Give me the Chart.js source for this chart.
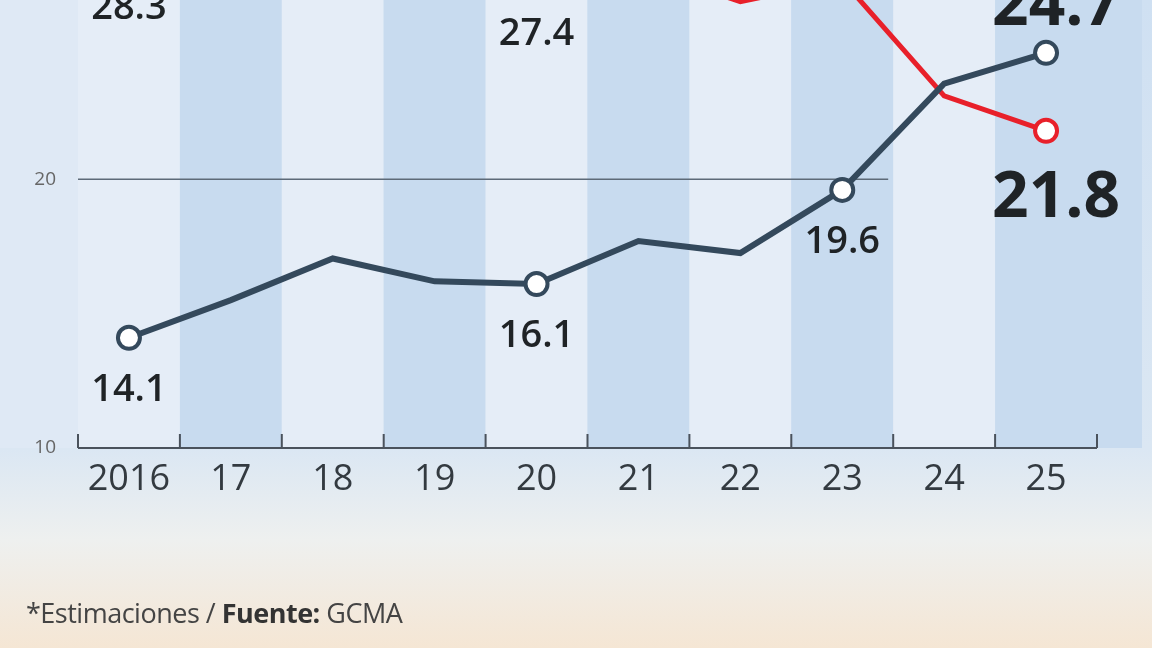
<!DOCTYPE html>
<html>
<head>
<meta charset="utf-8">
<script src="https://cdn.jsdelivr.net/npm/chart.js@4"></script>
<style>
  html, body { margin: 0; padding: 0; }
  body {
    width: 1152px; height: 648px; overflow: hidden; position: relative;
    background: linear-gradient(to bottom, #cfe0f2 0px, #dbe7f3 450px, #eef0ef 540px, #f5e6d4 648px);
    font-family: "Open Sans", sans-serif;
  }
  #wrap { position: absolute; left: 0; top: 0; width: 1152px; height: 648px; }
  #note { position: absolute; left: 26px; top: 594px; font-size: 27px; color: #444; letter-spacing: -0.5px; }
  #note b { color: #333; }
</style>
</head>
<body>
<div id="wrap"><canvas id="chart"></canvas></div>
<div id="note">*Estimaciones / <b>Fuente:</b> GCMA</div>
<script>
document.addEventListener("DOMContentLoaded", function () {
    const years = ["2016", "17", "18", "19", "20", "21", "22", "23", "24", "25"];
    const darkSeries = [14.1, 15.5, 17.05, 16.2, 16.1, 17.7, 17.25, 19.6, 23.55, 24.7];
    const redSeries = [28.3, 28.6, 29.0, 28.6, 27.4, 27.9, 26.6, 27.4, 23.1, 21.8];
    const darkMarkers = [11, 0, 0, 0, 11, 0, 0, 11, 0, 11];
    const redMarkers = [11, 0, 0, 0, 11, 0, 11, 0, 0, 11];
    // value labels: [series, index, text, big, position]
    const labels = [
        ["dark", 0, "14.1", false, "below"],
        ["dark", 4, "16.1", false, "below"],
        ["dark", 7, "19.6", false, "below"],
        ["dark", 9, "24.7", true, "above"],
        ["red", 9, "21.8", true, "below"],
        ["red", 0, "28.3", false, "below"],
        ["red", 4, "27.4", false, "below"]
    ];

    const bandsPlugin = {
        id: "bands",
        beforeDraw(chart) {
            const { ctx, chartArea, scales } = chart;
            const x = scales.x;
            const step = x.getPixelForValue(1) - x.getPixelForValue(0);
            ctx.save();
            ctx.fillStyle = "#dfe9f5";
            ctx.fillRect(0, 0, chartArea.left, chartArea.bottom);
            for (let i = 0; i < years.length; i++) {
                const c = x.getPixelForValue(i);
                ctx.fillStyle = i % 2 === 0 ? "#e5edf7" : "#c8dbef";
                ctx.fillRect(c - step / 2, 0, step, chartArea.bottom);
            }
            ctx.fillStyle = "#c8dbef";
            ctx.fillRect(chartArea.right, 0, 45, chartArea.bottom);
            // gridline at 20
            const y20 = scales.y.getPixelForValue(20);
            ctx.strokeStyle = "#5d6a78";
            ctx.lineWidth = 1.5;
            ctx.beginPath();
            ctx.moveTo(chartArea.left, y20);
            ctx.lineTo(x.getPixelForValue(7) + step / 2 - 5, y20);
            ctx.stroke();
            // baseline with ticks
            ctx.strokeStyle = "#4a525c";
            ctx.lineWidth = 2;
            ctx.beginPath();
            ctx.moveTo(chartArea.left, chartArea.bottom);
            ctx.lineTo(chartArea.right, chartArea.bottom);
            for (let i = 0; i <= years.length; i++) {
                const t = x.getPixelForValue(i) - step / 2;
                ctx.moveTo(t, chartArea.bottom - 14);
                ctx.lineTo(t, chartArea.bottom);
            }
            ctx.stroke();
            ctx.restore();
        }
    };

    const labelsPlugin = {
        id: "valueLabels",
        afterDatasetsDraw(chart) {
            const { ctx } = chart;
            ctx.save();
            ctx.textAlign = "center";
            ctx.textBaseline = "middle";
            ctx.fillStyle = "#1f2326";
            labels.forEach(([s, i, text, big, pos]) => {
                const meta = chart.getDatasetMeta(s === "dark" ? 0 : 1);
                const p = meta.data[i];
                ctx.font = big ? "bold 64px 'Open Sans'" : "600 38px 'Open Sans'";
                if (s === "red" && !big) {
                    ctx.fillText(text, p.x, i === 0 ? 8 : 34);
                    return;
                }
                const y = pos === "below" ? p.y + (big ? 68 : 52) : p.y - 46;
                ctx.fillText(text, p.x + (big ? 10 : 0), y);
            });
            ctx.restore();
        }
    };

    new Chart(document.getElementById("chart"), {
        type: "line",
        data: {
            labels: years,
            datasets: [{
                data: darkSeries,
                borderColor: "#34495c",
                borderWidth: 6,
                pointRadius: darkMarkers,
                pointBackgroundColor: "#ffffff",
                pointBorderColor: "#34495c",
                pointBorderWidth: 4,
                clip: false,
                tension: 0
            }, {
                data: redSeries,
                borderColor: "#e8202a",
                borderWidth: 5,
                pointRadius: redMarkers,
                pointBackgroundColor: "#ffffff",
                pointBorderColor: "#e8202a",
                pointBorderWidth: 4,
                clip: false,
                tension: 0
            }]
        },
        options: {
            responsive: true,
            maintainAspectRatio: false,
            animation: false,
            layout: { padding: { top: 0, right: 55, left: 0, bottom: 0 } },
            plugins: { legend: { display: false }, tooltip: { enabled: false } },
            scales: {
                x: {
                    offset: true,
                    grid: { display: false, drawTicks: false },
                    border: { display: false },
                    ticks: { color: "#333a40", font: { size: 36, family: "Open Sans" }, padding: 10 },
                    afterFit: s => { s.height = 200; }
                },
                y: {
                    min: 10,
                    max: 25.72,
                    afterBuildTicks: s => { s.ticks = [{ value: 10 }, { value: 20 }]; },
                    grid: { display: false },
                    border: { display: false },
                    ticks: { color: "#666", font: { size: 19, family: "Open Sans" }, padding: 14 },
                    afterFit: s => { s.width = 78; }
                }
            }
        },
        plugins: [bandsPlugin, labelsPlugin]
    });
});
</script>
</body>
</html>
